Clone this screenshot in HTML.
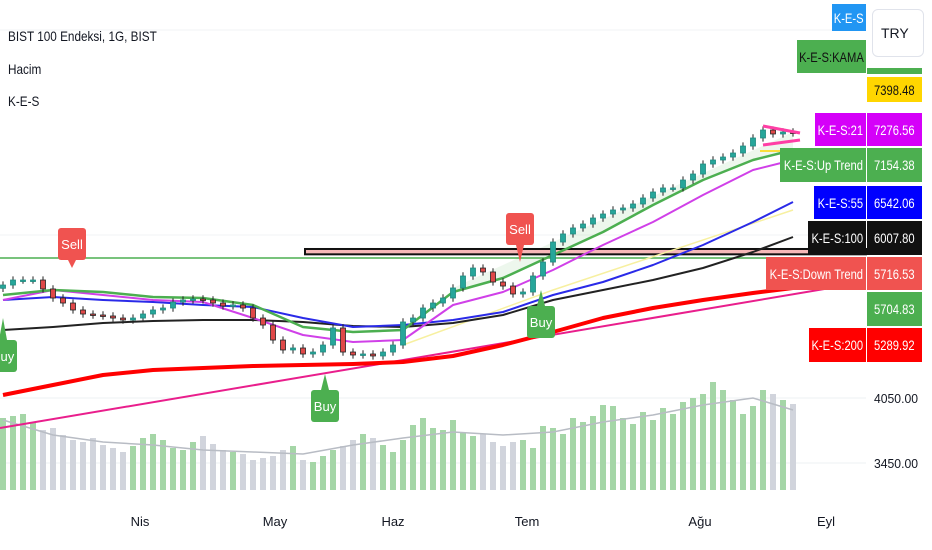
<!DOCTYPE html>
<html><head><meta charset="utf-8">
<style>
body{margin:0;background:#fff;font-family:"Liberation Sans",sans-serif;}
#wrap{position:relative;width:932px;height:550px;overflow:hidden;background:#fff}
.lg{position:absolute;left:8px;font-size:14px;color:#131722;transform:scaleX(.84);transform-origin:left center;white-space:nowrap}
.lbl{position:absolute;font-size:14px;color:#fff;white-space:nowrap;display:flex;justify-content:center;align-items:center}
.lbl span{display:inline-block;flex:none;transform:scaleX(.8);transform-origin:center}
</style></head><body>
<div id="wrap">
<svg id="svg" width="932" height="550" style="position:absolute;left:0;top:0"></svg>
<div class="lg" style="top:28px">BIST 100 Endeksi, 1G, BIST</div>
<div class="lg" style="top:61px">Hacim</div>
<div class="lg" style="top:93px">K-E-S</div>
<div style="position:absolute;left:872px;top:9px;width:52px;height:48px;border:1px solid #e0e3eb;border-radius:6px;box-sizing:border-box;font-size:14px;line-height:46px;padding-left:8px;color:#131722">TRY</div>
</div>
<script>
const closes=[5426,5487,5487,5487,5378,5268,5207,5122,5073,5061,5049,5024,5000,5024,5073,5122,5146,5219,5244,5256,5244,5207,5171,5183,5146,5024,4939,4756,4635,4659,4586,4610,4695,4903,4610,4574,4586,4562,4610,4695,4976,5024,5146,5207,5268,5390,5536,5633,5585,5463,5414,5317,5341,5536,5706,5950,6048,6121,6169,6242,6291,6340,6364,6413,6486,6559,6608,6608,6705,6778,6900,6949,6985,7034,7119,7217,7314,7266,7290,7278];
const volumes=[72,74,76,68,60,62,55,50,48,52,45,42,38,44,52,56,50,42,40,48,54,46,40,38,36,30,32,34,40,44,30,28,34,40,44,50,56,52,45,38,50,65,72,62,60,70,58,54,56,48,44,48,50,42,64,62,56,72,68,74,85,84,72,66,78,70,82,76,88,92,96,108,100,90,76,84,100,96,90,86];
const maIdx=[0,5,10,15,20,25,30,35,40,45,50,55,60,65,70,75,79];
const ma100=[4878,4915,4964,4988,5000,5000,4976,4927,4915,4964,5061,5244,5365,5487,5633,5828,6011];
const ma55=[5244,5280,5244,5219,5183,5158,5024,4915,4939,5000,5097,5305,5463,5670,5914,6194,6437];
const ma21=[5244,5365,5305,5244,5219,5024,4817,4732,4756,5183,5341,5609,5914,6194,6523,6827,6949];
const upTrend=[5305,5365,5341,5280,5268,5183,4915,4854,4878,5341,5512,5792,6072,6401,6705,6949,7071];
const ma200=[4087,4208,4330,4391,4415,4440,4452,4464,4488,4562,4695,4854,5024,5146,5244,5329,5390];
const volMA=[70,55,48,45,40,38,36,45,52,58,55,58,68,75,85,92,80];
const yellowIdx=[40,55,79];const yellowVals=[4695,5365,6340];
const pinkIdx=[-0.3,85.7];const pinkVals=[3685,5451];
const greenLevel=5755, barLevelTop=5865, barLevelBot=5800;
const priceTicks=[4050,3450];
const dateLabels=["Nis","May","Haz","Tem","Ağu","Eyl"];
const dateIdx=[13.7,27.2,39,52.4,69.7,82.3];

const NS="http://www.w3.org/2000/svg";const svg=document.getElementById('svg');
const x=i=>3+i*10;
const y=p=>398-(p-4050)*0.0821;
const tickY=p=>398+(4050-p)*0.1083;
const vy=v=>490-v;
function el(t,a,parent){const e=document.createElementNS(NS,t);for(const k in a)e.setAttribute(k,a[k]);(parent||svg).appendChild(e);return e;}
priceTicks.forEach(p=>{const g=el('line',{x1:0,x2:866,y1:tickY(p),y2:tickY(p),stroke:'#eef0f3'});


const t=el('text',{x:874,y:tickY(p)+5,'font-size':13,fill:'#131722',textLength:44,lengthAdjust:'spacingAndGlyphs'});t.textContent=p.toFixed(2);

});
[30,235].forEach(yy=>el('line',{x1:0,x2:866,y1:yy,y2:yy,stroke:'#f2f3f5'}));
volumes.forEach((v,i)=>{const up=i==0||closes[i]>=closes[i-1];const r=el('rect',{x:x(i)-3,y:vy(v),width:6,height:v,fill:up?'#a5d6a7':'#d1d4dc'});

});
function path(idx,vals,fy){return idx.map((i,k)=>(k?'L':'M')+x(i).toFixed(1)+' '+fy(vals[k]).toFixed(1)).join(' ');}
const vm=el('path',{d:path(maIdx,volMA,vy),fill:'none',stroke:'#b8bcc4','stroke-width':1.5});


const fa=el('path',{d:path(maIdx.slice(9),upTrend.slice(9),y)+' L'+x(79)+' '+y(7290)+' L'+x(45)+' '+y(5390)+'Z',fill:'rgba(76,175,80,0.10)'});


const gl=el('line',{x1:0,x2:866,y1:y(greenLevel),y2:y(greenLevel),stroke:'#4caf50','stroke-width':1.5});


const bb=el('rect',{x:x(30.2),y:y(barLevelTop),width:866-x(30.2),height:y(barLevelBot)-y(barLevelTop),fill:'#f6b8b8',stroke:'#111','stroke-width':2});


const lines=[[yellowIdx,yellowVals,'#f7f0a0',1.5,'yellow-line'],[pinkIdx,pinkVals,'#e91e8c',2,'pink-trendline'],[maIdx,ma200,'#f00',4,'ma200-line'],[maIdx,ma100,'#222',2,'ma100-line'],[maIdx,ma55,'#2a2ae8',2,'ma55-line'],[maIdx,ma21,'#d040e8',2,'ma21-line'],[maIdx,upTrend,'#4caf50',2.5,'uptrend-line']];
lines.forEach(L=>{const p=el('path',{d:path(L[0],L[1],y),fill:'none',stroke:L[2],'stroke-width':L[3],'stroke-linejoin':'round'});

});
closes.forEach((c,i)=>{const o=i?closes[i-1]:c-40;const up=c>=o;const hi=Math.max(o,c)+45,lo=Math.min(o,c)-45;
const g=el('g',{});


el('line',{x1:x(i),x2:x(i),y1:y(hi),y2:y(lo),stroke:'#222','stroke-width':1},g);
const t=Math.min(y(o),y(c));el('rect',{x:x(i)-2.5,y:t,width:5,height:Math.max(1.5,Math.abs(y(o)-y(c))),fill:up?'#26a69a':'#e04848',stroke:up?'#1f8a7f':'#222','stroke-width':0.8},g);});
el('path',{d:'M763 126 L800 133 M763 145 L800 140',stroke:'#ff3ea5','stroke-width':3,fill:'none'});
el('line',{x1:760,x2:790,y1:151,y2:151,stroke:'#ffd600','stroke-width':1.5});
function sig(txt,cx,top,col,down,tipY){const g=el('g',{});


el('rect',{x:cx-14,y:top,width:28,height:32,rx:3,fill:col},g);
el('path',{d:down?`M${cx-4} ${top+32} L${cx} ${tipY} L${cx+4} ${top+32}Z`:`M${cx-4} ${top} L${cx} ${tipY} L${cx+4} ${top}Z`,fill:col},g);
const t=el('text',{x:cx,y:top+21,'font-size':13,fill:'#fff','text-anchor':'middle'},g);t.textContent=txt;}
sig('Sell',72,228,'#f05350',true,268);sig('Sell',520,213,'#f05350',true,262);
sig('Buy',3,340,'#4caf50',false,318);sig('Buy',325,390,'#4caf50',false,374);sig('Buy',541,306,'#4caf50',false,290);
dateLabels.forEach((d,k)=>{const t=el('text',{x:x(dateIdx[k]),y:526,'font-size':13,fill:'#131722','text-anchor':'middle'});t.textContent=d;

});
const wrap=document.getElementById('wrap');
function box(l,t,w,h,bg,txt,col,name){const d=document.createElement('div');d.className='lbl';d.style.cssText+=`left:${l}px;top:${t}px;width:${w}px;height:${h}px;background:${bg};color:${col||'#fff'}`;
const s=document.createElement('span');s.textContent=txt;d.appendChild(s);

wrap.appendChild(d);}
box(832,4,34,27,'#2196f3','K-E-S','#fff','kes-tag');
box(797,40,69,33,'#4caf50','K-E-S:KAMA','#111','kama-tag');
box(867,68,55,6,'#4caf50','','#fff','kama-price');
box(867,77,55,25,'#ffd600','7398.48','#111','yellow-price');
box(815,113,51,33,'#d500f9','K-E-S:21','#fff','ma21-tag');box(867,113,55,33,'#d500f9','7276.56','#fff','ma21-price');
box(780,148,86,34,'#4caf50','K-E-S:Up Trend','#fff','uptrend-tag');box(867,148,55,34,'#4caf50','7154.38','#fff','uptrend-price');
box(814,186,52,33,'#0000ff','K-E-S:55','#fff','ma55-tag');box(867,186,55,33,'#0000ff','6542.06','#fff','ma55-price');
box(808,221,58,34,'#111','K-E-S:100','#fff','ma100-tag');box(867,221,55,34,'#111','6007.80','#fff','ma100-price');
box(766,257,100,33,'#f05350','K-E-S:Down Trend','#fff','downtrend-tag');box(867,257,55,33,'#f05350','5716.53','#fff','downtrend-price');
box(867,292,55,34,'#4caf50','5704.83','#fff','support-price');
box(809,328,57,34,'#f00','K-E-S:200','#fff','ma200-tag');box(867,328,55,34,'#f00','5289.92','#fff','ma200-price');
</script>
</body></html>
